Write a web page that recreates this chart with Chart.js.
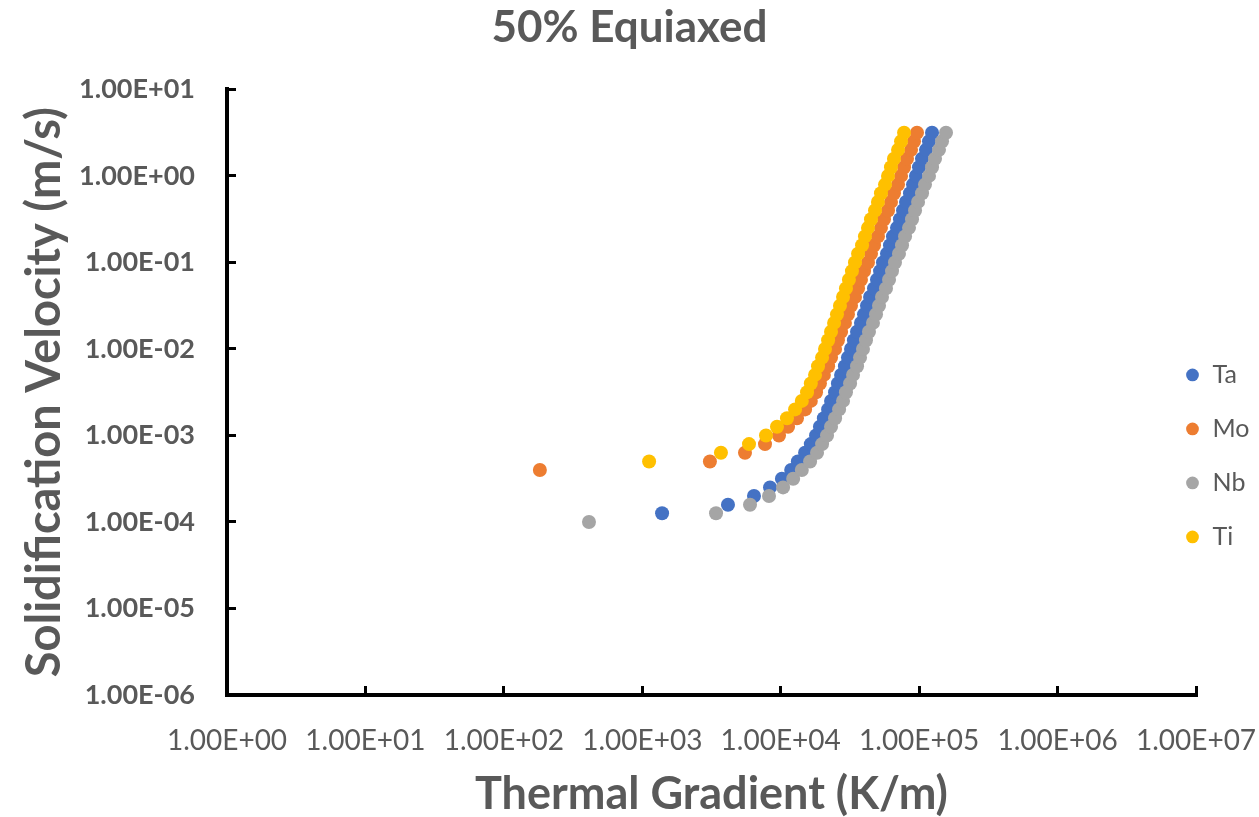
<!DOCTYPE html>
<html>
<head>
<meta charset="utf-8">
<script src="https://cdn.jsdelivr.net/npm/chart.js@4/dist/chart.umd.min.js"></script>
<style>
html,body{margin:0;padding:0;background:#ffffff;}
canvas{display:block;}
</style>
</head>
<body>
<canvas id="c" width="1259" height="817"></canvas>
<script>
// ---------- DATA ----------
const chartTitle = '50% Equiaxed';
const xAxisTitle = 'Thermal Gradient (K/m)';
const yAxisTitle = 'Solidification Velocity (m/s)';
const seriesNames = ['Ta', 'Mo', 'Nb', 'Ti'];
const seriesColors = ['#4472C4', '#ED7D31', '#A5A5A5', '#FFC000'];

const xTickValues = [1, 10, 100, 1000, 1e4, 1e5, 1e6, 1e7];
const xTickLabels = ['1.00E+00','1.00E+01','1.00E+02','1.00E+03','1.00E+04','1.00E+05','1.00E+06','1.00E+07'];
const yTickValues = [1e-6, 1e-5, 1e-4, 1e-3, 1e-2, 1e-1, 1, 10];
const yTickLabels = ['1.00E-06','1.00E-05','1.00E-04','1.00E-03','1.00E-02','1.00E-01','1.00E+00','1.00E+01'];

// Ta: thermal gradient (K/m) and solidification velocity (m/s)
const taGradient = [1390,4160,6410,8370,10200,11900,13300,15000,16500,18000,19200,20500,22000,23100,24700,25900,27300,29100,30600,32200,33800,35600,38000,40000,42000,44200,47200,49600,52200,54800,58600,61600,64700,69200,72700,76500,80400,85900,90300,94900,99800,104900,112100,117800,123900];
const taVelocity = [1.26e-4,1.58e-4,2.00e-4,2.51e-4,3.16e-4,3.98e-4,5.01e-4,6.31e-4,7.94e-4,1.00e-3,1.26e-3,1.58e-3,2.00e-3,2.51e-3,3.16e-3,3.98e-3,5.01e-3,6.31e-3,7.94e-3,1.00e-2,1.26e-2,1.58e-2,2.00e-2,2.51e-2,3.16e-2,3.98e-2,5.01e-2,6.31e-2,7.94e-2,0.100,0.126,0.158,0.200,0.251,0.316,0.398,0.501,0.631,0.794,1.00,1.26,1.58,2.00,2.51,3.16];

// Mo
const moGradient = [182,3080,5520,7700,9720,11300,13100,15000,16500,18000,19200,20500,22000,23100,24700,25900,27300,29100,30600,32200,34400,36200,38000,40000,42700,44900,47200,50400,53000,55700,59600,62600,65800,70400,74000,77800,81700,87400,91800,96500];
const moVelocity = [3.98e-4,5.01e-4,6.31e-4,7.94e-4,1.00e-3,1.26e-3,1.58e-3,2.00e-3,2.51e-3,3.16e-3,3.98e-3,5.01e-3,6.31e-3,7.94e-3,1.00e-2,1.26e-2,1.58e-2,2.00e-2,2.51e-2,3.16e-2,3.98e-2,5.01e-2,6.31e-2,7.94e-2,0.100,0.126,0.158,0.200,0.251,0.316,0.398,0.501,0.631,0.794,1.00,1.26,1.58,2.00,2.51,3.16];

// Nb
const nbGradient = [412,3410,6000,8230,10400,12300,14200,16300,18300,19900,21600,23100,24700,26400,28200,29600,31700,33300,35600,37400,39300,41300,43400,46400,48800,51300,53900,57600,60600,63700,66900,71500,75200,79100,84500,88800,93400,98200,104900,110200,117800,123900,130200,139100,146300,156300];
const nbVelocity = [1.00e-4,1.26e-4,1.58e-4,2.00e-4,2.51e-4,3.16e-4,3.98e-4,5.01e-4,6.31e-4,7.94e-4,1.00e-3,1.26e-3,1.58e-3,2.00e-3,2.51e-3,3.16e-3,3.98e-3,5.01e-3,6.31e-3,7.94e-3,1.00e-2,1.26e-2,1.58e-2,2.00e-2,2.51e-2,3.16e-2,3.98e-2,5.01e-2,6.31e-2,7.94e-2,0.100,0.126,0.158,0.200,0.251,0.316,0.398,0.501,0.631,0.794,1.00,1.26,1.58,2.00,2.51,3.16];

// Ti
const tiGradient = [1120,3700,5900,7830,9400,11100,12700,14200,15500,16500,17700,18600,19900,20900,22000,23100,24300,25500,26800,28200,29600,31100,32700,34400,36200,38700,40600,42700,44900,48000,50400,53000,56700,59600,62600,65800,70400,74000,77800];
const tiVelocity = [5.01e-4,6.31e-4,7.94e-4,1.00e-3,1.26e-3,1.58e-3,2.00e-3,2.51e-3,3.16e-3,3.98e-3,5.01e-3,6.31e-3,7.94e-3,1.00e-2,1.26e-2,1.58e-2,2.00e-2,2.51e-2,3.16e-2,3.98e-2,5.01e-2,6.31e-2,7.94e-2,0.100,0.126,0.158,0.200,0.251,0.316,0.398,0.501,0.631,0.794,1.00,1.26,1.58,2.00,2.51,3.16];

// ---------- CHART ----------
const FONT = 'Lato, "Open Sans", "DejaVu Sans", sans-serif';
const TEXT = '#595959';
Chart.defaults.font.family = FONT;

const toPoints = (g, v) => g.map((x, i) => ({ x: x, y: v[i] }));
const allGradients = [taGradient, moGradient, nbGradient, tiGradient];
const allVelocities = [taVelocity, moVelocity, nbVelocity, tiVelocity];

const datasets = seriesNames.map((name, i) => ({
  label: name,
  data: toPoints(allGradients[i], allVelocities[i]),
  backgroundColor: seriesColors[i],
  borderColor: seriesColors[i],
  borderWidth: 0,
  pointRadius: 7,
  pointHoverRadius: 7,
  pointStyle: 'circle',
  showLine: false,
  order: seriesNames.length - i
}));

const legendPlacer = {
  id: 'legendPlacer',
  afterLayout(chart) {
    const lg = chart.legend;
    if (!lg) return;
    const a = chart.chartArea;
    lg.left = a.right - 40;
    lg.right = chart.width;
    lg.width = lg.right - lg.left;
    lg.top = a.top + 244;
    lg.bottom = chart.height;
    lg.height = lg.bottom - lg.top;
  }
};

new Chart(document.getElementById('c'), {
  type: 'scatter',
  data: { datasets: datasets },
  options: {
    responsive: false,
    animation: false,
    devicePixelRatio: 1,
    layout: { padding: { left: 0, right: 0, top: 0, bottom: 0 } },
    plugins: {
      title: {
        display: true,
        text: chartTitle,
        color: TEXT,
        font: { family: FONT, size: 44, weight: 'bold', lineHeight: 1.1 },
        padding: { top: 4, bottom: 37 }
      },
      legend: {
        display: true,
        position: 'right',
        align: 'start',
        reverse: true,
        maxWidth: 63,
        labels: {
          usePointStyle: true,
          boxWidth: 15,
          boxHeight: 9,
          padding: 29,
          color: TEXT,
          font: { family: FONT, size: 25 }
        }
      },
      tooltip: { enabled: false }
    },
    scales: {
      x: {
        type: 'logarithmic',
        position: 'bottom',
        min: 1,
        max: 1e7,
        afterBuildTicks: (s) => { s.ticks = xTickValues.map(v => ({ value: v })); },
        afterFit: (s) => { s.height = 122; s.paddingLeft = 0; s.paddingRight = 0; },
        ticks: {
          autoSkip: false,
          maxRotation: 0,
          minRotation: 0,
          padding: 38,
          color: TEXT,
          font: { family: FONT, size: 28 },
          callback: (v, i) => xTickLabels[i]
        },
        grid: { display: true, drawOnChartArea: false, drawTicks: true, tickLength: -9, tickWidth: 3, tickColor: '#000000' },
        border: { display: true, color: '#000000', width: 4 },
        title: {
          display: true,
          text: xAxisTitle,
          color: TEXT,
          font: { family: FONT, size: 45, weight: 'bold', lineHeight: 1.0 },
          padding: { top: 16, bottom: 0 }
        }
      },
      y: {
        type: 'logarithmic',
        position: 'left',
        min: 1e-6,
        max: 10,
        afterBuildTicks: (s) => { s.ticks = yTickValues.map(v => ({ value: v })); },
        afterFit: (s) => { s.width = 227; },
        ticks: {
          autoSkip: false,
          padding: 41,
          color: TEXT,
          font: { family: FONT, size: 27, weight: 'bold' },
          callback: (v, i) => yTickLabels[i]
        },
        grid: { display: true, drawOnChartArea: false, drawTicks: true, tickLength: -9, tickWidth: 3, tickColor: '#000000' },
        border: { display: true, color: '#000000', width: 4 },
        title: {
          display: true,
          text: yAxisTitle,
          color: TEXT,
          font: { family: FONT, size: 47, weight: 'bold', lineHeight: 1.0 },
          padding: { top: 21, bottom: 10 }
        }
      }
    }
  },
  plugins: [legendPlacer]
});
</script>
</body>
</html>
